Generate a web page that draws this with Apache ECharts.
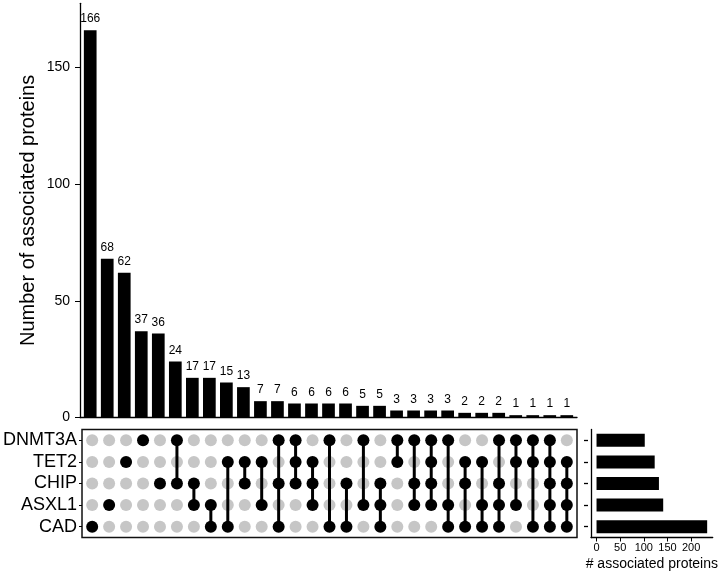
<!DOCTYPE html>
<html>
<head>
<meta charset="utf-8">
<script src="https://cdn.jsdelivr.net/npm/echarts@6/dist/echarts.min.js"></script>
<style>html,body{margin:0;padding:0;background:#fff}#c{width:720px;height:576px}</style>
</head>
<body>
<div id="c"></div>
<script>
// ---- data ----
const sets = ['DNMT3A', 'TET2', 'CHIP', 'ASXL1', 'CAD'];
const counts = [166, 68, 62, 37, 36, 24, 17, 17, 15, 13, 7, 7, 6, 6, 6, 6, 5, 5, 3, 3, 3, 3, 2, 2, 2, 1, 1, 1, 1];
const memDNMT3A = [0,0,0,1,0,1,0,0,0,0,0,1,1,0,1,0,1,0,1,1,1,1,0,0,1,1,1,1,0];
const memTET2   = [0,0,1,0,0,0,0,0,1,1,1,0,1,1,0,0,0,0,1,0,1,0,1,1,0,1,1,1,1];
const memCHIP   = [0,0,0,0,1,1,1,0,0,1,0,1,1,1,0,1,0,1,0,1,1,0,1,0,1,0,0,1,1];
const memASXL1  = [0,1,0,0,0,0,1,1,0,0,1,0,0,1,0,0,1,1,0,1,1,1,0,1,1,1,0,1,1];
const memCAD    = [1,0,0,0,0,0,0,1,1,0,0,1,0,0,1,1,0,1,0,0,0,1,1,1,1,0,1,1,1];
const setSizes = [102, 123, 132, 141, 234];
const topTicks = [0, 50, 100, 150];
const sizeTicks = [0, 50, 100, 150, 200];

// ---- build ----
const membership = [memDNMT3A, memTET2, memCHIP, memASXL1, memCAD];
const greyDots = [], blackDots = [], segs = [];
counts.forEach((c, i) => {
  let lo = null, hi = null;
  membership.forEach((row, j) => {
    if (row[i]) { blackDots.push([i, j]); if (lo === null) lo = j; hi = j; }
    else greyDots.push([i, j]);
  });
  if (lo !== null && hi > lo) segs.push([i, lo, hi]);
});

const FONT = "'Liberation Sans', Arial, Helvetica, sans-serif";
const black = '#000';

const chart = echarts.init(document.getElementById('c'), null, {renderer: 'canvas'});
chart.setOption({
  animation: false,
  textStyle: {fontFamily: FONT, color: black},
  grid: [
    {left: 80, top: 3.3, width: 497, height: 414.2},
    {left: 80, top: 429.5, width: 497, height: 108, show: true, borderColor: '#111', borderWidth: 1.5, backgroundColor: 'transparent'},
    {left: 591, top: 429.5, width: 123.5, height: 108},
    {left: 588, top: 429.5, width: 120, height: 108}
  ],
  xAxis: [
    {gridIndex: 0, type: 'value', min: -0.6, max: 28.6,
     axisLine: {show: true, onZero: false, lineStyle: {color: black, width: 1.3}},
     axisTick: {show: false}, axisLabel: {show: false}, splitLine: {show: false}},
    {gridIndex: 1, type: 'value', min: -0.6, max: 28.6, show: false, splitLine: {show: false},
     axisLine: {onZero: false}},
    {gridIndex: 2, type: 'value', min: -11.7, max: 245.7, position: 'bottom',
     axisLine: {show: true, onZero: false, lineStyle: {color: black, width: 1.3}},
     axisTick: {show: true, length: 4, customValues: sizeTicks, lineStyle: {color: black}},
     axisLabel: {customValues: sizeTicks, margin: 5, fontSize: 11, color: black},
     splitLine: {show: false},
     name: '# associated proteins', nameLocation: 'middle', nameGap: 20, nameMoveOverlap: false,
     nameTextStyle: {fontSize: 14, color: black}},
    {gridIndex: 3, type: 'value', min: 0, max: 1, show: false, splitLine: {show: false}}
  ],
  yAxis: [
    {gridIndex: 0, type: 'value', min: 0, max: 177.5, position: 'left',
     axisLine: {show: true, onZero: false, lineStyle: {color: black, width: 1.3}},
     axisTick: {show: true, length: 5, customValues: topTicks, lineStyle: {color: black}},
     axisLabel: {customValues: topTicks, margin: 10, fontSize: 14, color: black},
     splitLine: {show: false},
     name: 'Number of associated proteins', nameLocation: 'middle', nameGap: 42, nameMoveOverlap: false,
     nameTextStyle: {fontSize: 20, color: black}},
    {gridIndex: 1, type: 'category', data: sets, inverse: true, position: 'left',
     axisLine: {show: false, onZero: false},
     axisTick: {show: true, length: 3, alignWithLabel: true, interval: 0, lineStyle: {color: black}},
     axisLabel: {fontSize: 18, margin: 5, interval: 0, color: black}},
    {gridIndex: 2, type: 'category', data: sets, inverse: true, position: 'left',
     axisLine: {show: true, onZero: false, lineStyle: {color: black, width: 1.3}},
     axisTick: {show: false}, axisLabel: {show: false}},
    {gridIndex: 3, type: 'category', data: sets, inverse: true, position: 'left',
     axisLine: {show: false, onZero: false},
     axisTick: {show: true, length: 4, alignWithLabel: true, interval: 0, lineStyle: {color: black, width: 1.3}},
     axisLabel: {show: false}}
  ],
  series: [
    {type: 'bar', xAxisIndex: 0, yAxisIndex: 0, barWidth: 12.7,
     data: counts.map((v, i) => [i, v]),
     itemStyle: {color: black},
     label: {show: true, position: 'top', distance: 5, fontSize: 12, color: black,
             formatter: p => p.value[1]}},
    {type: 'scatter', xAxisIndex: 1, yAxisIndex: 1, data: greyDots, symbolSize: 12,
     itemStyle: {color: '#c6c6c6', opacity: 1}, z: 2},
    {type: 'custom', xAxisIndex: 1, yAxisIndex: 1, data: segs, z: 3,
     encode: {x: 0, y: [1, 2]},
     renderItem: (params, api) => {
       const a = api.coord([api.value(0), api.value(1)]);
       const b = api.coord([api.value(0), api.value(2)]);
       return {type: 'line', shape: {x1: a[0], y1: a[1], x2: b[0], y2: b[1]},
               style: {stroke: black, lineWidth: 3}};
     }},
    {type: 'scatter', xAxisIndex: 1, yAxisIndex: 1, data: blackDots, symbolSize: 12,
     itemStyle: {color: black, opacity: 1}, z: 4},
    {type: 'bar', xAxisIndex: 2, yAxisIndex: 2, barWidth: 13,
     data: setSizes, itemStyle: {color: black}}
  ]
});
</script>
</body>
</html>
